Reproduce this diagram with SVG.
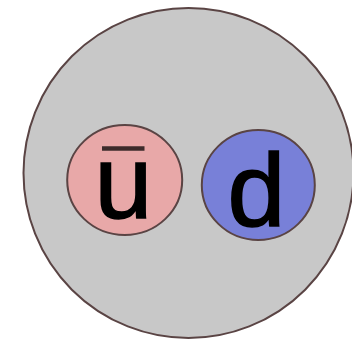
<svg xmlns="http://www.w3.org/2000/svg" width="352" height="343" viewBox="0 0 352 343">
<style>
.ring{stroke:#5a4444;stroke-width:2}
.lbl{font-family:"Liberation Sans",Arial,sans-serif;font-size:104px;fill:#000;stroke:#000;stroke-width:1.6;text-anchor:middle}
</style>
<rect width="352" height="343" fill="#ffffff"/>
<g id="meson">
<circle class="ring" cx="188.5" cy="173" r="165" fill="#c8c8c8"/>
</g>
<g id="antiup">
<ellipse class="ring" cx="124.7" cy="180" rx="57.5" ry="55" fill="#e8a8a8"/>
<text class="lbl" x="123.5" y="218">u</text>
<line x1="102" y1="148.5" x2="144.5" y2="148.5" stroke="#3d2b2b" stroke-width="4.5"/>
</g>
<g id="down">
<ellipse class="ring" cx="258.3" cy="185" rx="56.5" ry="55" fill="#7880d8"/>
<text class="lbl" x="256.5" y="225.5">d</text>
</g>
</svg>
